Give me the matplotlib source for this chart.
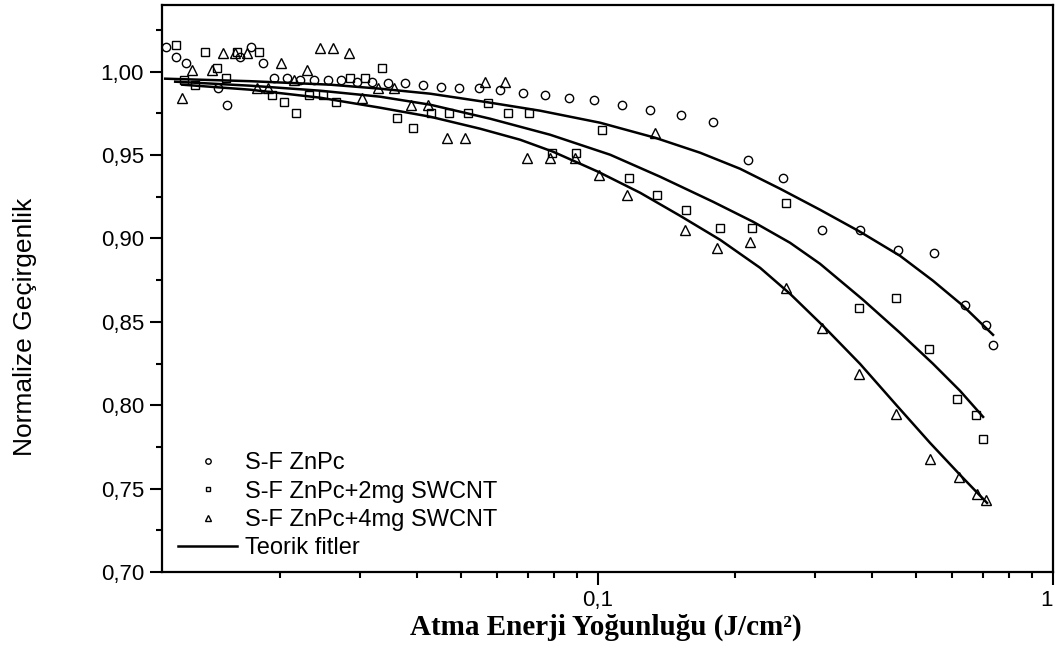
import numpy as np
import matplotlib
matplotlib.use('Agg')
import matplotlib.pyplot as plt
from matplotlib.ticker import FixedLocator, FuncFormatter, LogLocator, NullFormatter, MultipleLocator

#%% Veriler
x_znpc = [0.0112, 0.0118, 0.0124, 0.0146, 0.0153, 0.0163, 0.0173, 0.0183, 0.0194, 0.0207,
          0.0221, 0.0237, 0.0255, 0.0272, 0.0295, 0.0319, 0.0345, 0.0377, 0.0412, 0.0452,
          0.0495, 0.0548, 0.0609, 0.0684, 0.0765, 0.0864, 0.0980, 0.113, 0.130, 0.152,
          0.179, 0.214, 0.255, 0.311, 0.377, 0.456, 0.547, 0.641, 0.712, 0.738]
y_znpc = [1.015, 1.009, 1.005, 0.990, 0.980, 1.009, 1.015, 1.005, 0.996, 0.996,
          0.995, 0.995, 0.995, 0.995, 0.994, 0.994, 0.993, 0.993, 0.992, 0.991,
          0.990, 0.990, 0.989, 0.987, 0.986, 0.984, 0.983, 0.980, 0.977, 0.974,
          0.970, 0.947, 0.936, 0.905, 0.905, 0.893, 0.891, 0.860, 0.848, 0.836]

x_2mg = [0.0118, 0.0123, 0.0130, 0.0137, 0.0145, 0.0152, 0.0161, 0.0180, 0.0192, 0.0204,
         0.0217, 0.0232, 0.0249, 0.0266, 0.0285, 0.0308, 0.0335, 0.0361, 0.0392, 0.0430,
         0.0471, 0.0518, 0.0573, 0.0634, 0.0705, 0.0793, 0.0895, 0.102, 0.117, 0.135,
         0.156, 0.185, 0.218, 0.259, 0.375, 0.452, 0.534, 0.615, 0.677, 0.702]
y_2mg = [1.016, 0.995, 0.992, 1.012, 1.002, 0.996, 1.012, 1.012, 0.986, 0.982,
         0.975, 0.986, 0.986, 0.982, 0.996, 0.996, 1.002, 0.972, 0.966, 0.975,
         0.975, 0.975, 0.981, 0.975, 0.975, 0.951, 0.951, 0.965, 0.936, 0.926,
         0.917, 0.906, 0.906, 0.921, 0.858, 0.864, 0.834, 0.804, 0.794, 0.780]

x_4mg = [0.0122, 0.0128, 0.0142, 0.0150, 0.0159, 0.0169, 0.0178, 0.0188, 0.0201, 0.0215,
         0.0229, 0.0245, 0.0262, 0.0283, 0.0303, 0.0328, 0.0356, 0.0388, 0.0423, 0.0466,
         0.0510, 0.0565, 0.0625, 0.0699, 0.0785, 0.0889, 0.1005, 0.1158, 0.1334, 0.1553,
         0.1826, 0.2158, 0.2588, 0.3106, 0.3747, 0.4519, 0.5370, 0.6215, 0.6808, 0.7129]
y_4mg = [0.984, 1.001, 1.001, 1.011, 1.011, 1.011, 0.990, 0.990, 1.005, 0.995,
         1.001, 1.014, 1.014, 1.011, 0.984, 0.990, 0.990, 0.980, 0.980, 0.960,
         0.960, 0.994, 0.994, 0.948, 0.948, 0.948, 0.938, 0.926, 0.963, 0.905,
         0.894, 0.898, 0.870, 0.846, 0.819, 0.795, 0.768, 0.757, 0.747, 0.743]

# teorik fit eğrileri (grafikten okunan noktalar)
fx_znpc = [0.01118, 0.01719, 0.02576, 0.03318, 0.04275, 0.05702, 0.07457, 0.1010, 0.1334,
           0.1676, 0.2051, 0.2512, 0.3075, 0.3765, 0.4609, 0.5449, 0.6342, 0.7381]
fy_znpc = [0.9958, 0.9943, 0.9922, 0.9898, 0.9868, 0.9817, 0.9766, 0.9694, 0.9604,
           0.9514, 0.9418, 0.9298, 0.9172, 0.9040, 0.8896, 0.8746, 0.8596, 0.8422]

fx_2mg = [0.01176, 0.01719, 0.02449, 0.03318, 0.04275, 0.05790, 0.07842, 0.1063, 0.1369,
          0.1789, 0.2191, 0.2642, 0.3075, 0.3823, 0.4609, 0.5449, 0.6247, 0.7019]
fy_2mg = [0.9940, 0.9916, 0.9886, 0.9850, 0.9802, 0.9718, 0.9622, 0.9502, 0.9370,
          0.9220, 0.9100, 0.8974, 0.8848, 0.8632, 0.8434, 0.8248, 0.8086, 0.7930]

fx_4mg = [0.01219, 0.01719, 0.02449, 0.03318, 0.04275, 0.05505, 0.06739, 0.07963, 0.1000,
          0.1237, 0.1514, 0.1854, 0.2270, 0.2642, 0.3122, 0.3765, 0.4541, 0.5366, 0.6247, 0.7161]
fy_4mg = [0.9922, 0.9892, 0.9844, 0.9784, 0.9730, 0.9658, 0.9592, 0.9520, 0.9400,
          0.9274, 0.9136, 0.8992, 0.8824, 0.8668, 0.8476, 0.8248, 0.7996, 0.7774, 0.7582, 0.7414]

labels = ['S-F ZnPc', 'S-F ZnPc+2mg SWCNT', 'S-F ZnPc+4mg SWCNT', 'Teorik fitler']

#%% Grafik
plt.rcParams['font.family'] = ['Liberation Sans', 'DejaVu Sans']

fig = plt.figure(figsize=(10.56, 6.46), dpi=100)
ax = fig.add_axes([0.1534, 0.1146, 0.8438, 0.8777])

mk = dict(ls='none', mfc='none', mec='k', mew=1.0, ms=6)
ax.plot(x_znpc, y_znpc, marker='o', label=labels[0], **mk)
ax.plot(x_2mg, y_2mg, marker='s', label=labels[1], **dict(mk, ms=5.5))
ax.plot(x_4mg, y_4mg, marker='^', label=labels[2], **dict(mk, ms=7))
ax.plot(fx_znpc, fy_znpc, '-k', lw=1.8, label=labels[3])
ax.plot(fx_2mg, fy_2mg, '-k', lw=1.8)
ax.plot(fx_4mg, fy_4mg, '-k', lw=1.8)

ax.set_xscale('log')
ax.set_xlim(0.011, 1.0)
ax.set_ylim(0.70, 1.04)

ax.xaxis.set_major_locator(FixedLocator([0.1, 1.0]))
ax.xaxis.set_major_formatter(FuncFormatter(lambda v, p: '1' if v >= 1 else f'{v:g}'.replace('.', ',')))
ax.xaxis.set_minor_locator(LogLocator(base=10, subs=np.arange(2, 10)))
ax.xaxis.set_minor_formatter(NullFormatter())

ax.yaxis.set_major_locator(MultipleLocator(0.05))
ax.yaxis.set_minor_locator(MultipleLocator(0.025))
ax.yaxis.set_major_formatter(FuncFormatter(lambda v, p: f'{v:.2f}'.replace('.', ',')))

ax.tick_params(which='major', direction='out', length=9, width=1.5, labelsize=16, pad=4)
ax.tick_params(which='minor', direction='out', length=4.5, width=1.5)
ax.tick_params(axis='x', which='major', pad=4)
for s in ax.spines.values():
    s.set_linewidth(1.6)

fig.text(0.0237, 0.494, 'Normalize Geçirgenlik', rotation=90, ha='center', va='center',
         fontsize=19)
fig.text(0.5734, 0.0170, 'Atma Enerji Yoğunluğu (J/cm²)', ha='center', va='baseline',
         fontsize=21, fontweight='bold', family=['Liberation Serif', 'DejaVu Serif'])

ax.legend(loc='lower left', bbox_to_anchor=(0.018, 0.022), frameon=False,
          fontsize=17, handlelength=2.5, handletextpad=0.34, labelspacing=0.27,
          borderpad=0, borderaxespad=0, markerscale=0.65)

fig.canvas.draw()
for lab in ax.get_xticklabels():
    if lab.get_text() == '1':
        lab.set_ha('right')

fig.savefig('out.png', dpi=100)
